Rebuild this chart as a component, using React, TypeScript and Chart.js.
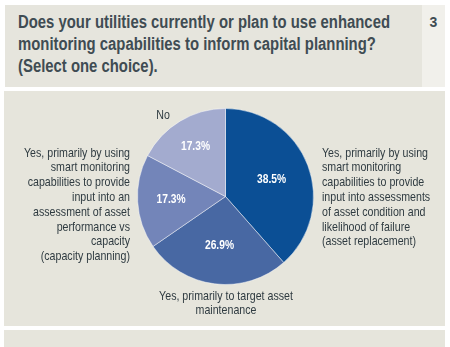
import React, { useEffect, useRef } from "react";
import { Chart, registerables } from "chart.js";

Chart.register(...registerables);

const titleLines = [
  "Does your utilities currently or plan to use enhanced",
  "monitoring capabilities to inform capital planning?",
  "(Select one choice).",
];
const pageNumber = "3";
const categories = [
  "Yes, primarily by using\nsmart monitoring\ncapabilities to provide\ninput into assessments\nof asset condition and\nlikelihood of failure\n(asset replacement)",
  "Yes, primarily to target asset\nmaintenance",
  "Yes, primarily by using\nsmart monitoring\ncapabilities to provide\ninput into an\nassessment of asset\nperformance vs\ncapacity\n(capacity planning)",
  "No",
];
const values = [38.5, 26.9, 17.3, 17.3];

const FONT = "'Liberation Sans', Arial, sans-serif";
const sliceColors = ["#0b4f95", "#4868a3", "#7385b9", "#a3abcf"];

let measureCtx: CanvasRenderingContext2D | null = null;
function measure(text: string, font: string): number {
  if (!measureCtx) measureCtx = document.createElement("canvas").getContext("2d");
  if (!measureCtx) return 1;
  measureCtx.font = font;
  return measureCtx.measureText(text).width;
}

const TITLE_FONT = `bold 18px ${FONT}`;
const LABEL_FONT = `12.8px ${FONT}`;
const titleScale = 372 / measure(titleLines[0], TITLE_FONT);
const labelScale = 106 / measure("Yes, primarily by using", LABEL_FONT);

type Place = { left: number; width: number; top: number; align: "left" | "right" | "center"; lh: number };
const labelPlaces: Place[] = [
  { left: 322, width: 140, top: 145.6, align: "left", lh: 14.8 },
  { left: 116, width: 220, top: 289, align: "center", lh: 13.8 },
  { left: 0, width: 130, top: 145.6, align: "right", lh: 14.8 },
  { left: 143, width: 40, top: 107.5, align: "center", lh: 14.8 },
];

const pctPlugin = {
  id: "pctLabels",
  afterDatasetsDraw(chart: any) {
    const ctx = chart.ctx;
    const meta = chart.getDatasetMeta(0);
    const data = chart.data.datasets[0].data as number[];
    const factors = [0.56, 0.56, 0.62, 0.66];
    ctx.save();
    ctx.fillStyle = "#ffffff";
    ctx.font = `bold 12.5px ${FONT}`;
    ctx.textAlign = "center";
    ctx.textBaseline = "middle";
    meta.data.forEach((arc: any, i: number) => {
      const { x, y, startAngle, endAngle, outerRadius } = arc.getProps(
        ["x", "y", "startAngle", "endAngle", "outerRadius"],
        true
      );
      const a = (startAngle + endAngle) / 2;
      const r = outerRadius * factors[i];
      ctx.save();
      ctx.translate(x + Math.cos(a) * r, y + Math.sin(a) * r);
      ctx.scale(0.82, 1);
      ctx.fillText(`${data[i].toFixed(1)}%`, 0, 0);
      ctx.restore();
    });
    ctx.restore();
  },
};

export default function App() {
  const canvasRef = useRef<HTMLCanvasElement | null>(null);

  useEffect(() => {
    if (!canvasRef.current) return;
    const chart = new Chart(canvasRef.current, {
      type: "pie",
      data: {
        labels: categories.map((c) => c.replace(/\n/g, " ")),
        datasets: [
          {
            data: values,
            backgroundColor: sliceColors,
            borderColor: "rgba(255,255,255,0.45)",
            borderWidth: 1,
          },
        ],
      },
      options: {
        responsive: false,
        animation: false,
        layout: { padding: { top: 108, bottom: 62, left: 137, right: 136 } },
        plugins: {
          legend: { display: false },
          tooltip: { enabled: false },
        },
      },
      plugins: [pctPlugin],
    });
    return () => chart.destroy();
  }, []);

  const textColor = "#2f3b41";

  return (
    <div
      style={{
        position: "fixed",
        left: 0,
        top: 0,
        width: 450,
        height: 347,
        background: "#ffffff",
        overflow: "hidden",
        fontFamily: FONT,
      }}
    >
      <div style={{ position: "absolute", left: 5, top: 5, width: 417, height: 82, background: "#e6e5dd" }} />
      <div style={{ position: "absolute", left: 422, top: 5, width: 23, height: 82, background: "#f1f0eb" }} />
      <div style={{ position: "absolute", left: 4, top: 91, width: 441, height: 235, background: "#e6e5dc" }} />
      <div style={{ position: "absolute", left: 4, top: 330, width: 441, height: 20, background: "#e6e5dc" }} />
      <div
        style={{
          position: "absolute",
          left: 18,
          top: 10.5,
          font: TITLE_FONT,
          lineHeight: "22px",
          color: "#3f4c53",
          whiteSpace: "pre",
          transform: `scaleX(${titleScale})`,
          transformOrigin: "0 0",
        }}
      >
        {titleLines.join("\n")}
      </div>
      <div
        style={{
          position: "absolute",
          left: 422,
          width: 23,
          top: 13,
          fontSize: 14,
          lineHeight: "18px",
          fontWeight: "bold",
          textAlign: "center",
          color: "#3f4c53",
        }}
      >
        {pageNumber}
      </div>
      <canvas ref={canvasRef} width={450} height={347} style={{ position: "absolute", left: 0, top: 0 }} />
      {categories.map((c, i) => {
        const p = labelPlaces[i];
        const origin = p.align === "left" ? "0 0" : p.align === "right" ? "100% 0" : "50% 0";
        return (
          <div
            key={i}
            style={{
              position: "absolute",
              left: p.left,
              width: p.width,
              top: p.top,
              font: LABEL_FONT,
              lineHeight: `${p.lh}px`,
              color: textColor,
              whiteSpace: "pre",
              textAlign: p.align,
              transform: `scaleX(${labelScale})`,
              transformOrigin: origin,
            }}
          >
            {c}
          </div>
        );
      })}
    </div>
  );
}
